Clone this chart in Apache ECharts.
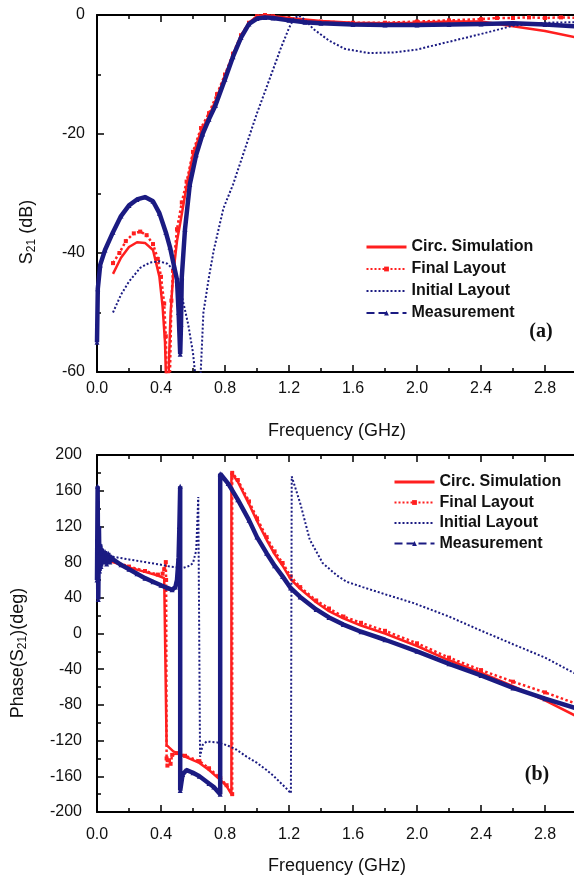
<!DOCTYPE html>
<html>
<head>
<meta charset="utf-8">
<script src="https://cdn.jsdelivr.net/npm/echarts@6/dist/echarts.min.js"></script>
<style>body{margin:0;background:#fff}</style>
</head>
<body>
<div id="chartA" style="width:574px;height:440px;"></div>
<div id="chartB" style="width:574px;height:439px;"></div>
<script>
// ---- (a) S21 magnitude (dB) ----
var simFreqA = [0.1, 0.15, 0.2, 0.25, 0.3, 0.35, 0.39, 0.41, 0.425, 0.44, 0.45, 0.46, 0.477, 0.5, 0.52, 0.56, 0.6, 0.65, 0.7, 0.75, 0.8, 0.85, 0.9, 0.95, 1.0, 1.05, 1.1, 1.2, 1.4, 1.6, 1.8, 2.0, 2.2, 2.4, 2.6, 2.8, 3.0];
var simValA  = [-43.5, -40.8, -39, -38.2, -38.3, -39.5, -44, -49, -55, -70, -58, -50, -43.4, -38, -35, -28.8, -23.5, -19.5, -17, -13.8, -10.3, -6.7, -3.5, -1.3, -0.2, 0, -0.2, -0.5, -1.0, -1.3, -1.4, -1.3, -1.1, -1.1, -1.9, -2.7, -3.8];

var finalFreqA = [0.1, 0.14, 0.18, 0.23, 0.27, 0.31, 0.35, 0.38, 0.4, 0.42, 0.43, 0.44, 0.455, 0.465, 0.475, 0.5, 0.53, 0.56, 0.6, 0.65, 0.7, 0.75, 0.8, 0.85, 0.9, 0.95, 1.0, 1.05, 1.1, 1.2, 1.4, 1.6, 1.8, 2.0, 2.2, 2.4, 2.5, 2.6, 2.7, 2.8, 2.9, 3.0];
var finalValA  = [-41.7, -40, -38, -36.7, -36.4, -37, -38.5, -41, -44, -48.5, -54, -65, -62, -48, -43, -36, -31.5, -28, -23, -19, -16.5, -13.3, -10, -6.5, -3.4, -1.3, -0.2, 0, -0.2, -0.6, -1.1, -1.3, -1.3, -1.1, -0.9, -0.7, -0.5, -0.5, -0.4, -0.5, -0.4, -0.5];

var initFreqA = [0.1, 0.15, 0.2, 0.27, 0.33, 0.39, 0.44, 0.477, 0.51, 0.54, 0.57, 0.6, 0.62, 0.635, 0.645, 0.665, 0.7, 0.73, 0.79, 0.85, 0.9, 1.0, 1.1, 1.15, 1.2, 1.23, 1.26, 1.3, 1.35, 1.45, 1.55, 1.7, 1.85, 2.0, 2.2, 2.4, 2.6, 2.8, 3.0];
var initValA  = [-50, -47, -44.8, -42.5, -41.6, -41.4, -41.8, -42.8, -45, -48.4, -52, -56.8, -62, -75, -62, -50, -44, -39.5, -32.5, -28.5, -24.5, -16.5, -9.2, -5.5, -2.2, -0.6, -0.1, -0.8, -2.3, -4.3, -5.7, -6.4, -6.3, -5.8, -4.5, -3.2, -1.8, -1.3, -1.2];

var measFreqA = [0.0, 0.005, 0.02, 0.05, 0.1, 0.15, 0.2, 0.25, 0.3, 0.35, 0.39, 0.43, 0.456, 0.48, 0.5, 0.51, 0.52, 0.525, 0.53, 0.55, 0.58, 0.62, 0.66, 0.7, 0.74, 0.8, 0.85, 0.9, 0.95, 1.0, 1.05, 1.1, 1.2, 1.3, 1.4, 1.6, 1.8, 2.0, 2.2, 2.4, 2.6, 2.8, 3.0];
var measValA  = [-55, -46, -42, -39.5, -36.5, -33.8, -32, -31, -30.6, -31.3, -33.3, -36.5, -39, -42, -44.5, -50, -57, -52, -44, -36, -28.5, -23.5, -20, -17.5, -15.2, -10.8, -7, -3.8, -1.5, -0.6, -0.4, -0.5, -0.9, -1.2, -1.4, -1.6, -1.7, -1.7, -1.6, -1.5, -1.4, -1.6, -1.9];

// ---- (b) S21 phase (deg) ----
var simFreqB = [0.0, 0.02, 0.05, 0.1, 0.2, 0.3, 0.38, 0.42, 0.432, 0.435, 0.477, 0.55, 0.64, 0.7, 0.77, 0.81, 0.84, 0.84, 0.88, 0.95, 1.0, 1.06, 1.11, 1.16, 1.21, 1.27, 1.37, 1.45, 1.54, 1.65, 1.8, 2.0, 2.2, 2.4, 2.6, 2.8, 3.0];
var simValB  = [88, 84, 83, 80, 74, 69, 65, 62, 60, -125, -132, -138, -145, -153, -164, -171, -180, 180, 170, 145, 126, 105, 89, 76, 61, 50, 35, 25, 17, 9, 0, -14, -30, -44, -59, -75, -93];

var finalFreqB = [0.0, 0.02, 0.05, 0.1, 0.2, 0.3, 0.38, 0.41, 0.42, 0.43, 0.432, 0.435, 0.44, 0.45, 0.46, 0.47, 0.5, 0.55, 0.64, 0.7, 0.77, 0.81, 0.845, 0.845, 0.88, 0.95, 1.0, 1.06, 1.11, 1.16, 1.21, 1.27, 1.37, 1.45, 1.54, 1.65, 1.8, 2.0, 2.2, 2.4, 2.6, 2.8, 3.0];
var finalValB  = [90, 85, 84, 81, 75, 70, 66, 67, 72, 80, 60, -140, -148, -142, -146, -136, -134, -137, -143, -151, -162, -170, -180, 180, 172, 148, 129, 108, 92, 79, 64, 52, 37, 28, 19, 12, 3, -11, -27, -41, -54, -66, -79];

var initFreqB = [0.0, 0.04, 0.1, 0.2, 0.3, 0.4, 0.456, 0.54, 0.58, 0.6, 0.62, 0.633, 0.644, 0.66, 0.685, 0.75, 0.81, 0.87, 0.935, 1.0, 1.06, 1.1, 1.14, 1.18, 1.212, 1.217, 1.27, 1.33, 1.41, 1.5, 1.56, 1.66, 1.8, 1.98, 2.2, 2.39, 2.6, 2.8, 3.0];
var initValB  = [90, 88, 86, 83, 80, 77, 75, 73.5, 76, 79, 93, 153, -138, -125, -121, -122, -125, -130, -138, -145, -153, -159, -166, -173, -179, 176, 146, 105, 79, 65, 58, 52, 44, 34, 19, 4, -12, -27, -46];

var measFreqB = [0.0, 0.004, 0.008, 0.012, 0.016, 0.02, 0.025, 0.03, 0.04, 0.05, 0.06, 0.07, 0.08, 0.09, 0.1, 0.15, 0.2, 0.25, 0.3, 0.35, 0.4, 0.44, 0.47, 0.49, 0.5, 0.51, 0.515, 0.52, 0.52, 0.535, 0.56, 0.6, 0.64, 0.7, 0.73, 0.77, 0.77, 0.82, 0.88, 0.95, 1.0, 1.06, 1.11, 1.16, 1.21, 1.27, 1.37, 1.45, 1.54, 1.65, 1.8, 2.0, 2.2, 2.4, 2.6, 2.8, 3.0];
var measValB  = [60, 165, 38, 120, 70, 100, 75, 95, 80, 92, 78, 90, 80, 86, 83, 77, 72, 67, 62, 58, 54, 51, 49, 52, 60, 85, 120, 165, -176, -158, -153, -156, -160, -168, -172, -180, 179, 168, 150, 127, 108, 90, 76, 64, 51, 41, 27, 18, 10, 2, -7, -20, -34, -47, -61, -73, -84];

var RED = '#ff1f1f';
var NAVY = '#1b1b82';
var FONT = '"Liberation Sans", Arial, sans-serif';

function zip(f, v) {
    return f.map(function (x, i) { return [x, v[i]]; });
}

function buildSeries(simF, simV, finF, finV, iniF, iniV, meaF, meaV) {
    return [{
        name: 'Circ. Simulation', type: 'line', data: zip(simF, simV),
        symbol: 'none', lineStyle: { color: RED, width: 2.5 }, itemStyle: { color: RED }, z: 3
    }, {
        name: 'Final Layout', type: 'line', data: zip(finF, finV),
        symbol: 'rect', symbolSize: 4,
        lineStyle: { color: RED, width: 2.5, type: 'dotted' }, itemStyle: { color: RED }, z: 2
    }, {
        name: 'Initial Layout', type: 'line', data: zip(iniF, iniV),
        symbol: 'none', lineStyle: { color: NAVY, width: 2, type: 'dotted' }, itemStyle: { color: NAVY }, z: 5
    }, {
        name: 'Measurement', type: 'line', data: zip(meaF, meaV),
        symbol: 'triangle', symbolSize: 5,
        lineStyle: { color: NAVY, width: 4.5 }, itemStyle: { color: NAVY }, z: 4
    }];
}

function xAxes(labelMargin, nameGap) {
    var line = { onZero: false, lineStyle: { color: '#000', width: 2 } };
    var tick = { inside: true, length: 7, lineStyle: { color: '#000', width: 1.5 } };
    var minor = { show: true, splitNumber: 2, length: 4, lineStyle: { color: '#000', width: 1.5 } };
    return [{
        type: 'value', min: 0, max: 3, interval: 0.4, position: 'bottom',
        name: 'Frequency (GHz)', nameLocation: 'middle', nameGap: nameGap,
        nameTextStyle: { fontSize: 18, color: '#111', fontFamily: FONT },
        axisLine: line, axisTick: tick, minorTick: minor, splitLine: { show: false },
        axisLabel: {
            margin: labelMargin, fontSize: 16, color: '#111', fontFamily: FONT, showMaxLabel: false,
            formatter: function (v) { return v.toFixed(1); }
        }
    }, {
        type: 'value', min: 0, max: 3, interval: 0.4, position: 'top',
        axisLine: line, axisTick: tick, minorTick: minor, splitLine: { show: false },
        axisLabel: { show: false }
    }];
}

function yAxis(min, max, interval, labelMargin) {
    return {
        type: 'value', min: min, max: max, interval: interval,
        axisLine: { show: true, onZero: false, lineStyle: { color: '#000', width: 2 } },
        axisTick: { show: true, inside: true, length: 7, lineStyle: { color: '#000', width: 1.5 } },
        minorTick: { show: true, splitNumber: 2, length: 4, lineStyle: { color: '#000', width: 1.5 } },
        splitLine: { show: false },
        axisLabel: { margin: labelMargin, fontSize: 16, color: '#111', fontFamily: FONT }
    };
}

function legendItems() {
    return [
        { name: 'Circ. Simulation', itemStyle: { opacity: 0 }, lineStyle: { width: 3 } },
        { name: 'Final Layout', lineStyle: { type: 'dotted', width: 2 } },
        { name: 'Initial Layout', itemStyle: { opacity: 0 }, lineStyle: { type: 'dotted', width: 2 } },
        { name: 'Measurement', lineStyle: { type: 'dashed', width: 2 } }
    ];
}

var legendText = { fontSize: 16, fontWeight: 'bold', color: '#111', fontFamily: FONT, lineHeight: 16 };

var chartA = echarts.init(document.getElementById('chartA'));
chartA.setOption({
    animation: false,
    grid: { left: 97, top: 15, width: 480, height: 357, outerBoundsMode: 'none' },
    xAxis: xAxes(9, 50),
    yAxis: yAxis(-60, 0, 20, 12),
    legend: {
        orient: 'vertical', left: 365, top: 239, padding: 0, itemWidth: 40, itemHeight: 6, itemGap: 6,
        data: legendItems(), textStyle: legendText
    },
    graphic: [{
        type: 'text', x: 27, y: 232, rotation: Math.PI / 2,
        style: {
            text: 'S{sub|21} (dB)', fontSize: 18, fontFamily: FONT, fill: '#111',
            align: 'center', verticalAlign: 'middle',
            rich: { sub: { fontSize: 12, fontFamily: FONT, fill: '#111', padding: [10, 0, 0, 0] } }
        }
    }, {
        type: 'text', x: 541, y: 332,
        style: { text: '(a)', fontSize: 20, fontWeight: 'bold', fontFamily: '"Liberation Serif", serif', fill: '#111', align: 'center', verticalAlign: 'middle' }
    }],
    series: buildSeries(simFreqA, simValA, finalFreqA, finalValA, initFreqA, initValA, measFreqA, measValA)
});

var chartB = echarts.init(document.getElementById('chartB'));
chartB.setOption({
    animation: false,
    grid: { left: 97, top: 15, width: 480, height: 357, outerBoundsMode: 'none' },
    xAxis: xAxes(15, 45),
    yAxis: yAxis(-200, 200, 40, 15),
    legend: {
        orient: 'vertical', left: 393, top: 34, padding: 0, itemWidth: 40, itemHeight: 6, itemGap: 4.5,
        data: legendItems(), textStyle: legendText
    },
    graphic: [{
        type: 'text', x: 18, y: 213, rotation: Math.PI / 2,
        style: {
            text: 'Phase(S{sub|21})(deg)', fontSize: 18, fontFamily: FONT, fill: '#111',
            align: 'center', verticalAlign: 'middle',
            rich: { sub: { fontSize: 12, fontFamily: FONT, fill: '#111', padding: [10, 0, 0, 0] } }
        }
    }, {
        type: 'text', x: 537, y: 335,
        style: { text: '(b)', fontSize: 20, fontWeight: 'bold', fontFamily: '"Liberation Serif", serif', fill: '#111', align: 'center', verticalAlign: 'middle' }
    }],
    series: buildSeries(simFreqB, simValB, finalFreqB, finalValB, initFreqB, initValB, measFreqB, measValB)
});
</script>
</body>
</html>
